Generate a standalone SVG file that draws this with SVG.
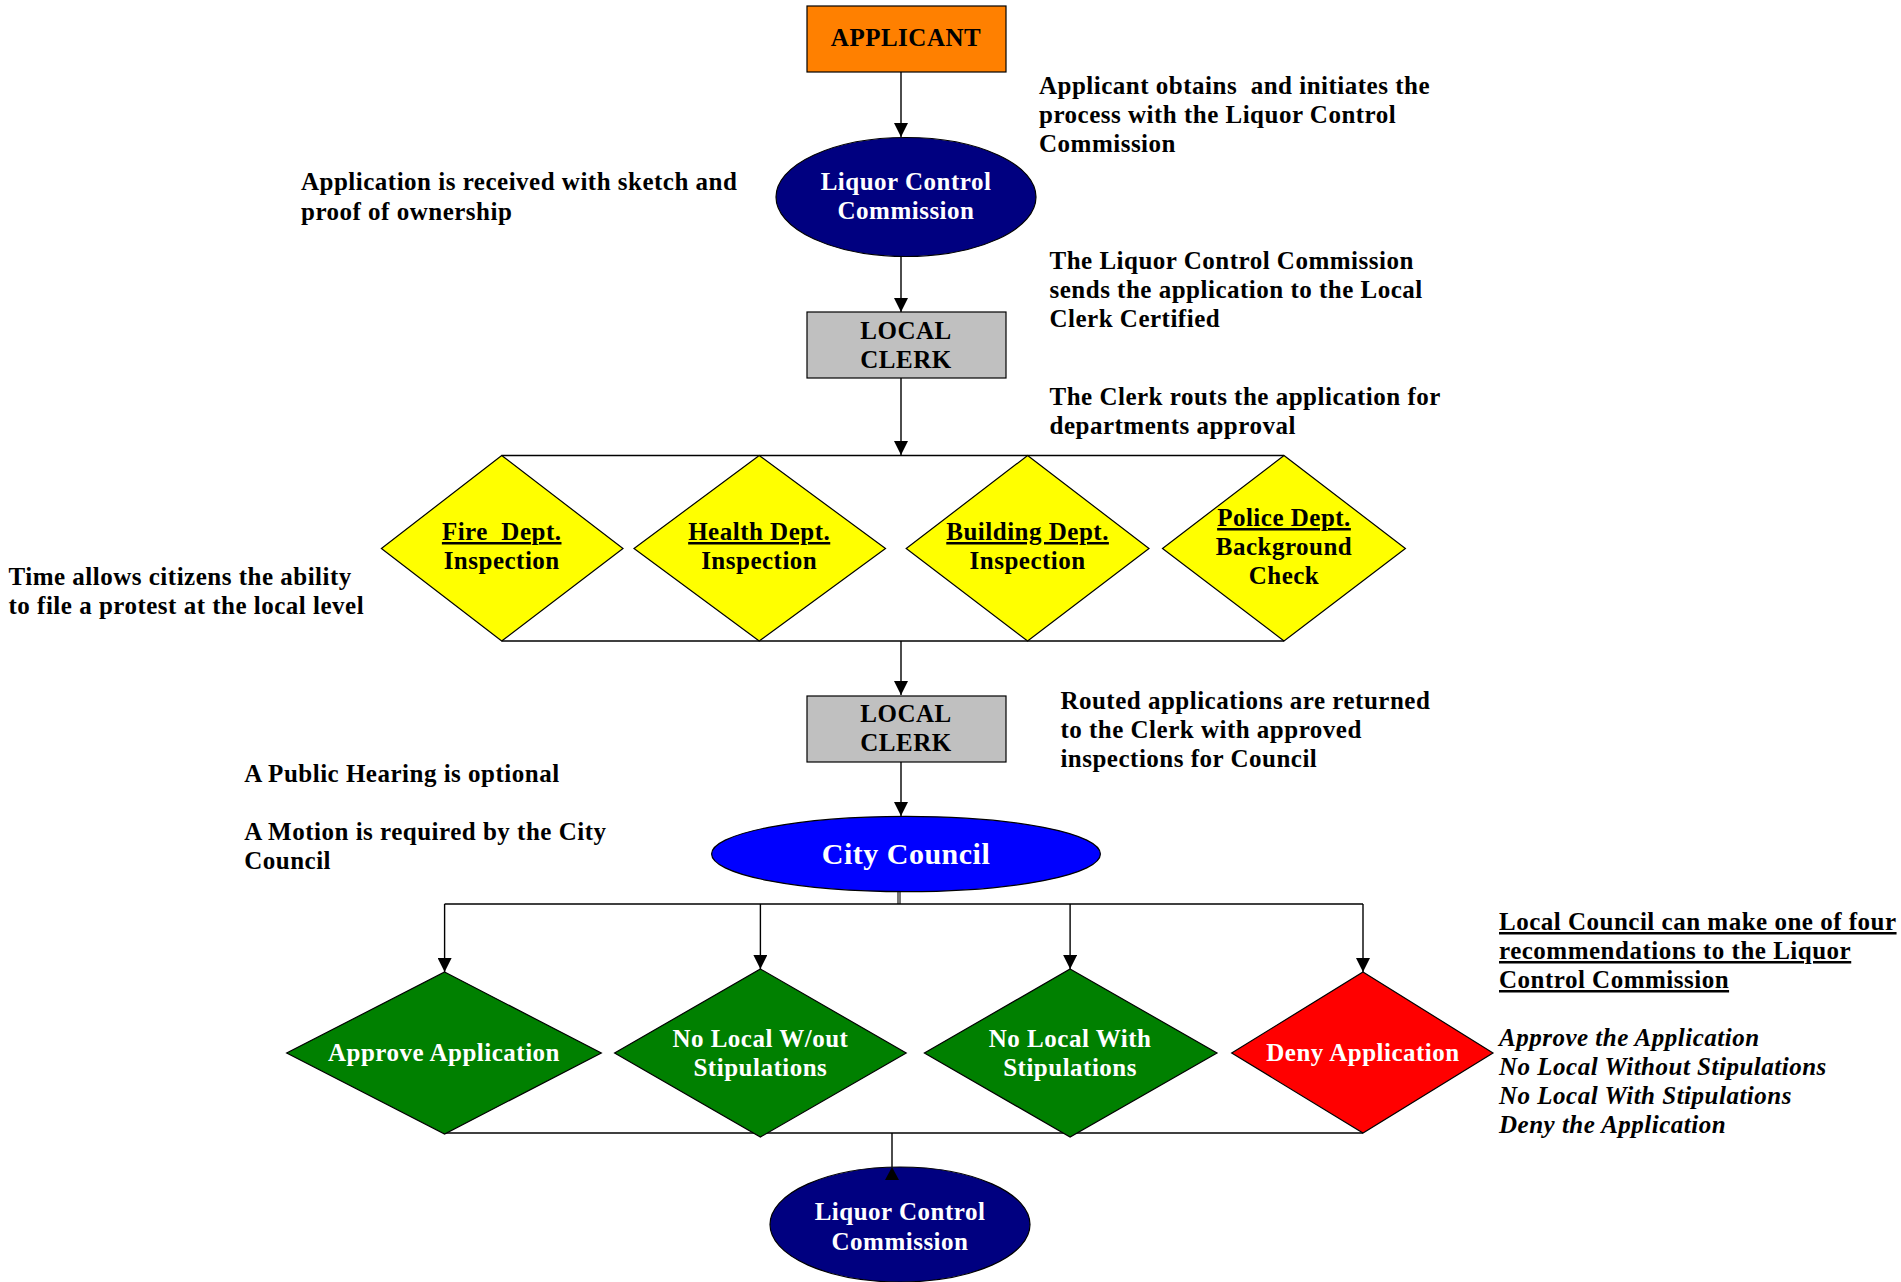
<svg xmlns="http://www.w3.org/2000/svg" width="1901" height="1282" viewBox="0 0 1901 1282">
<defs>
<marker id="ah" markerUnits="userSpaceOnUse" markerWidth="14" markerHeight="14" viewBox="0 0 14 14" refX="14" refY="7" orient="auto">
<path d="M0,0 L14,7 L0,14 Z" fill="#000"/>
</marker>
<style>
text{font-family:"Liberation Serif","Times New Roman",serif;font-weight:bold;font-size:25px;letter-spacing:0.5px}
.c{text-anchor:middle}
.w{fill:#fff}
.k{fill:#000}
.u{text-decoration:underline}
.i{font-style:italic}
.big{font-size:30px}
.ln{stroke:#000;stroke-width:1.4;fill:none}
.nd{stroke:#000;stroke-width:1.2}
</style>
</defs>
<rect width="1901" height="1282" fill="#fff"/>

<g id="connectors">
<line class="ln" x1="901" y1="72" x2="901" y2="137" marker-end="url(#ah)"/>
<line class="ln" x1="901" y1="256" x2="901" y2="312" marker-end="url(#ah)"/>
<line class="ln" x1="901" y1="378" x2="901" y2="455" marker-end="url(#ah)"/>
<line class="ln" x1="501.7" y1="455.5" x2="1284" y2="455.5" stroke="#444"/>
<line class="ln" x1="501.7" y1="641" x2="1284" y2="641" stroke="#444"/>
<line class="ln" x1="901" y1="641" x2="901" y2="695" marker-end="url(#ah)"/>
<line class="ln" x1="901" y1="762" x2="901" y2="816" marker-end="url(#ah)"/>
<line x1="899" y1="891" x2="899" y2="904" stroke="#777" stroke-width="4"/>
<line class="ln" x1="444.6" y1="904" x2="1363" y2="904"/>
<line class="ln" x1="444.6" y1="904" x2="444.6" y2="972" marker-end="url(#ah)"/>
<line class="ln" x1="760.4" y1="904" x2="760.4" y2="969" marker-end="url(#ah)"/>
<line class="ln" x1="1070.1" y1="904" x2="1070.1" y2="969" marker-end="url(#ah)"/>
<line class="ln" x1="1363" y1="904" x2="1363" y2="972" marker-end="url(#ah)"/>
<line class="ln" x1="444.6" y1="1133" x2="1363" y2="1133" stroke="#444"/>
<line class="ln" x1="892" y1="1133" x2="892" y2="1167" stroke="#444"/>
</g>

<g id="applicant">
<rect x="807" y="6" width="199" height="66" fill="#FF8000" class="nd"/>
<text x="906" y="46" class="c k">APPLICANT</text>
</g>

<g id="lcc1">
<ellipse cx="906" cy="197" rx="130" ry="59.5" fill="#000080" class="nd"/>
<text x="906" y="190" class="c w">Liquor Control</text>
<text x="906" y="219" class="c w">Commission</text>
</g>

<g id="clerk1">
<rect x="807" y="312" width="199" height="66" fill="#C0C0C0" class="nd"/>
<text x="906" y="339" class="c k">LOCAL</text>
<text x="906" y="368" class="c k">CLERK</text>
</g>

<g id="fire">
<polygon points="501.7,455.5 623,548.5 501.7,641 381.4,548.5" fill="#FFFF00" class="nd"/>
<text x="501.7" y="540" class="c k u" xml:space="preserve">Fire  Dept.</text>
<text x="501.7" y="569" class="c k">Inspection</text>
</g>

<g id="health">
<polygon points="759.2,455.5 885.5,548.5 759.2,641 634,548.5" fill="#FFFF00" class="nd"/>
<text x="759.2" y="540" class="c k u">Health Dept.</text>
<text x="759.2" y="569" class="c k">Inspection</text>
</g>

<g id="building">
<polygon points="1027.6,455.5 1149,548.5 1027.6,641 906.2,548.5" fill="#FFFF00" class="nd"/>
<text x="1027.6" y="540" class="c k u">Building Dept.</text>
<text x="1027.6" y="569" class="c k">Inspection</text>
</g>

<g id="police">
<polygon points="1284,455.5 1405.4,548.5 1284,641 1162.5,548.5" fill="#FFFF00" class="nd"/>
<text x="1284" y="526" class="c k u">Police Dept.</text>
<text x="1284" y="555" class="c k">Background</text>
<text x="1284" y="584" class="c k">Check</text>
</g>

<g id="clerk2">
<rect x="807" y="696" width="199" height="66" fill="#C0C0C0" class="nd"/>
<text x="906" y="722" class="c k">LOCAL</text>
<text x="906" y="751" class="c k">CLERK</text>
</g>

<g id="citycouncil">
<ellipse cx="906" cy="854" rx="194.4" ry="37.7" fill="#0000FF" class="nd"/>
<text x="906" y="864" class="c w big">City Council</text>
</g>

<g id="approve">
<polygon points="444.6,972 601.3,1053 444.6,1134 286.7,1053" fill="#008000" class="nd"/>
<text x="444" y="1061" class="c w">Approve Application</text>
</g>

<g id="nolocalwout">
<polygon points="760.4,969 906.2,1053 760.4,1137 614.6,1053" fill="#008000" class="nd"/>
<text x="760.4" y="1047" class="c w">No Local W/out</text>
<text x="760.4" y="1076" class="c w">Stipulations</text>
</g>

<g id="nolocalwith">
<polygon points="1070.1,969 1217,1053 1070.1,1137 924.4,1053" fill="#008000" class="nd"/>
<text x="1070.1" y="1047" class="c w">No Local With</text>
<text x="1070.1" y="1076" class="c w">Stipulations</text>
</g>

<g id="deny">
<polygon points="1363,972 1493,1053 1363,1133 1231.7,1053" fill="#FF0000" class="nd"/>
<text x="1363" y="1061" class="c w">Deny Application</text>
</g>

<g id="lcc2">
<ellipse cx="900" cy="1224.5" rx="130" ry="57.5" fill="#000080" class="nd"/>
<polygon points="892,1167 899,1180 885,1180" fill="#000"/>
<text x="900" y="1220" class="c w">Liquor Control</text>
<text x="900" y="1250" class="c w">Commission</text>
</g>

<g id="notes">
<text x="1039" y="94" xml:space="preserve">Applicant obtains  and initiates the</text>
<text x="1039" y="123">process with the Liquor Control</text>
<text x="1039" y="152">Commission</text>
<text x="301" y="190">Application is received with sketch and</text>
<text x="301" y="220">proof of ownership</text>
<text x="1049.5" y="269">The Liquor Control Commission</text>
<text x="1049.5" y="298">sends the application to the Local</text>
<text x="1049.5" y="327">Clerk Certified</text>
<text x="1049.5" y="405">The Clerk routs the application for</text>
<text x="1049.5" y="434">departments approval</text>
<text x="8.5" y="585">Time allows citizens the ability</text>
<text x="8.5" y="614">to file a protest at the local level</text>
<text x="1060.4" y="709">Routed applications are returned</text>
<text x="1060.4" y="738">to the Clerk with approved</text>
<text x="1060.4" y="767">inspections for Council</text>
<text x="244.2" y="782">A Public Hearing is optional</text>
<text x="244.2" y="840">A Motion is required by the City</text>
<text x="244.2" y="869">Council</text>
<text x="1499" y="930" class="u">Local Council can make one of four</text>
<text x="1499" y="959" class="u">recommendations to the Liquor</text>
<text x="1499" y="988" class="u">Control Commission</text>
<text x="1499" y="1046" class="i">Approve the Application</text>
<text x="1499" y="1075" class="i">No Local Without Stipulations</text>
<text x="1499" y="1104" class="i">No Local With Stipulations</text>
<text x="1499" y="1133" class="i">Deny the Application</text>
</g>
</svg>
